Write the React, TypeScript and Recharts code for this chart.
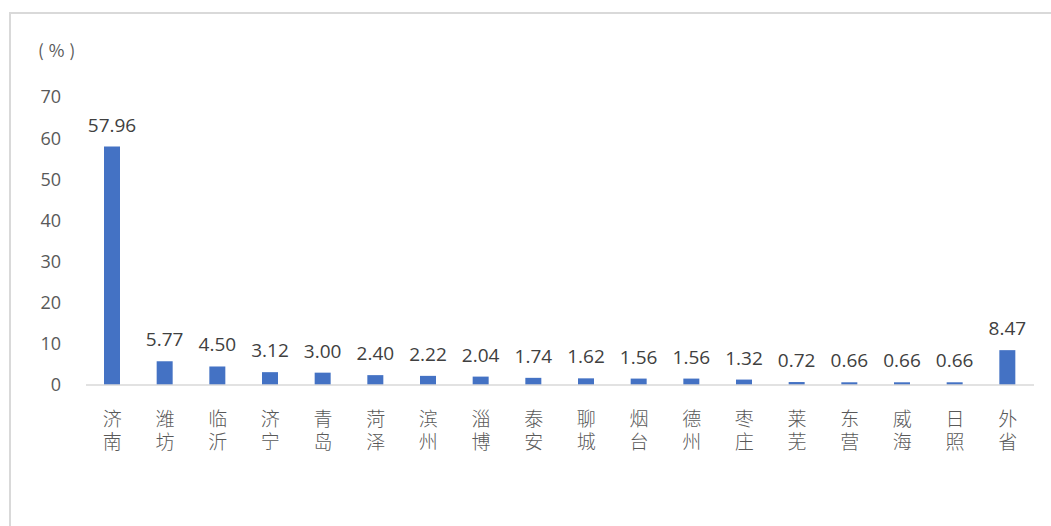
import React from 'react';
import { BarChart, Bar, XAxis, YAxis, LabelList } from 'recharts';

const CITIES = ['济南', '潍坊', '临沂', '济宁', '青岛', '菏泽', '滨州', '淄博', '泰安', '聊城', '烟台', '德州', '枣庄', '莱芜', '东营', '威海', '日照', '外省'];
const SHARES = [57.96, 5.77, 4.5, 3.12, 3.0, 2.4, 2.22, 2.04, 1.74, 1.62, 1.56, 1.56, 1.32, 0.72, 0.66, 0.66, 0.66, 8.47];
const Y_TICKS = [0, 10, 20, 30, 40, 50, 60, 70];

const DATA = CITIES.map((name, i) => ({ name, value: SHARES[i] }));

const SANS = '"Open Sans", "Noto Sans CJK SC", sans-serif';

// 竖排城市名
const CityTick = (props: any) => {
  const { x, y, payload } = props;
  return (
    <text
      x={x}
      y={y + 16}
      fill="#595959"
      fontSize={19}
      fontFamily='"Noto Sans CJK SC", sans-serif'
      fontWeight={300}
      style={{ writingMode: 'vertical-rl', letterSpacing: 4 }}
    >
      {payload.value}
    </text>
  );
};

const App: React.FC = () => {
  return (
    <div style={{ position: 'absolute', left: 0, top: 0, width: 1051, height: 526, background: '#fff', overflow: 'hidden' }}>
      <div style={{ position: 'absolute', left: 9, top: 12, width: 1100, height: 600, border: '2px solid #d9d9d9', boxSizing: 'border-box' }} />
      <div style={{ position: 'absolute', left: 38, top: 37, fontSize: 17, letterSpacing: 5, color: '#595959', fontFamily: '"Noto Sans CJK SC", sans-serif' }}>(%)</div>
      <div style={{ position: 'absolute', left: 0, top: 0 }}>
        <BarChart width={1051} height={526} data={DATA} margin={{ top: 97, right: 17, bottom: 0, left: 0 }}>
          <XAxis
            dataKey="name"
            interval={0}
            tickLine={false}
            axisLine={{ stroke: '#d9d9d9', strokeWidth: 1.5 }}
            tick={<CityTick />}
            height={141}
          />
          <YAxis
            width={86}
            domain={[0, 70]}
            ticks={Y_TICKS}
            interval={0}
            axisLine={false}
            tickLine={false}
            tickSize={0}
            tickMargin={25}
            tick={{ fill: '#595959', fontSize: 18, fontFamily: SANS }}
          />
          <Bar dataKey="value" fill="#4472C4" barSize={16} isAnimationActive={false}>
            <LabelList
              dataKey="value"
              position="top"
              offset={15}
              formatter={(v: any) => Number(v).toFixed(2)}
              style={{ fill: '#404040', fontSize: 19, fontFamily: SANS }}
            />
          </Bar>
        </BarChart>
      </div>
    </div>
  );
};

export default App;
